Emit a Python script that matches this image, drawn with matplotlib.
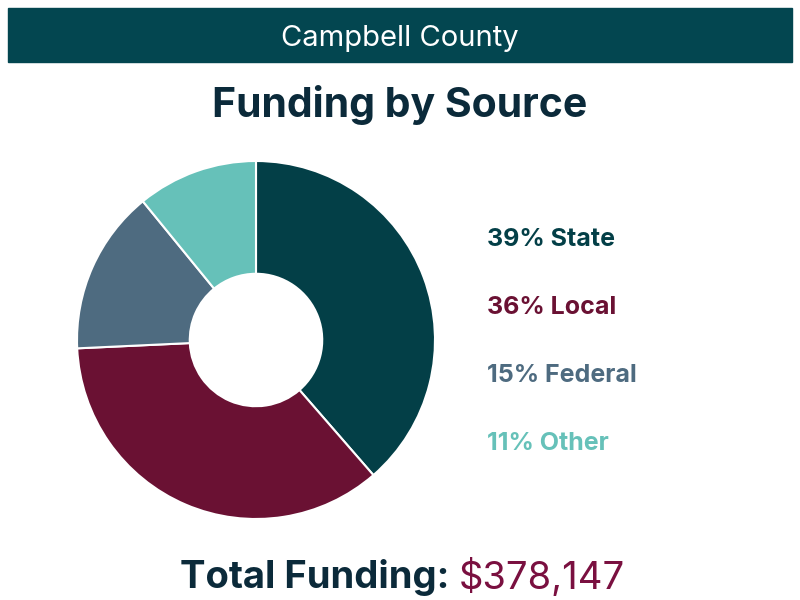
import matplotlib.pyplot as plt
from matplotlib.patches import Rectangle

county = "Campbell County"
sources = ["State", "Local", "Federal", "Other"]
percents = [39, 36, 15, 11]
total_funding = "$378,147"
colors = ["#033F47", "#6A1133", "#4E6B80", "#66C1B9"]

plt.rcParams['font.family'] = ['Inter', 'DejaVu Sans']

fig = plt.figure(figsize=(8, 6), dpi=100)

# bandeau du haut
fig.patches.append(Rectangle((8 / 800, 1 - 62 / 600), 784 / 800, 54 / 600,
                             transform=fig.transFigure, color="#034650", zorder=0))
fig.text(0.5, 1 - 38 / 600, county, color="white", fontsize=21,
         ha="center", va="center")

fig.text(0.5, 1 - 105 / 600, "Funding by Source", color="#0B2A3A",
         fontsize=29.5, fontweight="bold", ha="center", va="center")

# anneau
ax = fig.add_axes([77 / 800, 1 - 519 / 600, 358 / 800, 358 / 600])
ax.pie(percents, colors=colors, startangle=90, counterclock=False, radius=1,
       wedgeprops=dict(width=0.63, edgecolor="white", linewidth=1.5))
ax.set_xlim(-1, 1)
ax.set_ylim(-1, 1)
ax.set_aspect("equal")
ax.axis("off")

# légende
ys = [239, 307, 376, 444]
for s, p, c, y in zip(sources, percents, colors, ys):
    fig.text(487 / 800, 1 - y / 600, f"{p}% {s}", color=c, fontsize=18,
             fontweight="bold", ha="left", va="center")

# total
t1 = fig.text(180 / 800, 1 - 578 / 600, "Total Funding: ", color="#0B2A3A",
              fontsize=27.5, fontweight="bold", ha="left", va="center")
fig.canvas.draw()
bb = t1.get_window_extent()
fig.text(bb.x1 / 800, 1 - 578 / 600, total_funding, color="#7A1040",
         fontsize=27.5, ha="left", va="center")

fig.savefig("out.png", dpi=100)
